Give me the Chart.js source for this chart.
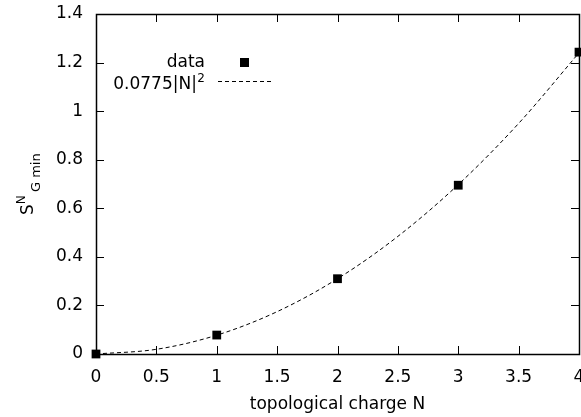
<!DOCTYPE html>
<html>
<head>
<meta charset="utf-8">
<script src="https://cdn.jsdelivr.net/npm/chart.js@4/dist/chart.umd.min.js"></script>
<style>
html,body{margin:0;padding:0;background:#fff;}
#wrap{width:581px;height:417px;}
</style>
</head>
<body>
<div id="wrap"><canvas id="c" width="581" height="417"></canvas></div>
<script>
// ---- data ----
const chargeN = [0, 1, 2, 3, 4];
const sValues = [0, 0.078, 0.31, 0.695, 1.243];
const fitN = [0, 0.5, 1, 1.5, 2, 2.5, 3, 3.5, 4];
const fitValues = [0, 0.019375, 0.0775, 0.174375, 0.31, 0.484375, 0.6975, 0.949375, 1.24];
const xTickValues = [0, 0.5, 1, 1.5, 2, 2.5, 3, 3.5, 4];
const yTickValues = [0, 0.2, 0.4, 0.6, 0.8, 1, 1.2, 1.4];
const dataLabel = 'data';
const fitLabel = '0.0775|N|';
const fitLabelSup = '2';
const xTitle = 'topological charge N';

const FONT = '"DejaVu Sans", Arial, Helvetica, sans-serif';
const FS = 17;

const frameTicks = {
  id: 'frameTicks',
  afterDatasetsDraw(chart) {
    const {ctx, chartArea: a, scales} = chart;
    ctx.save();
    ctx.strokeStyle = '#000';
    ctx.lineWidth = 1;
    ctx.beginPath();
    const L = 8;
    xTickValues.forEach(v => {
      const x = Math.round(scales.x.getPixelForValue(v)) + 0.5;
      ctx.moveTo(x, a.bottom); ctx.lineTo(x, a.bottom - L);
      ctx.moveTo(x, a.top); ctx.lineTo(x, a.top + L);
    });
    yTickValues.forEach(v => {
      const y = Math.round(scales.y.getPixelForValue(v)) + 0.5;
      ctx.moveTo(a.left, y); ctx.lineTo(a.left + L, y);
      ctx.moveTo(a.right, y); ctx.lineTo(a.right - L, y);
    });
    ctx.stroke();
    ctx.lineWidth = 1.5;
    ctx.strokeRect(Math.round(a.left)+0.5, Math.round(a.top)+0.5, Math.round(a.right - a.left), Math.round(a.bottom - a.top));
    ctx.restore();
  }
};

const legendAndLabel = {
  id: 'legendAndLabel',
  afterDraw(chart) {
    const ctx = chart.ctx;
    ctx.save();
    ctx.fillStyle = '#000';
    ctx.textBaseline = 'middle';
    ctx.textAlign = 'right';
    ctx.font = '12px ' + FONT;
    const supW = ctx.measureText(fitLabelSup).width;
    ctx.font = FS + 'px ' + FONT;
    ctx.fillText(dataLabel, 205, 63);
    ctx.fillText(fitLabel, 205 - supW - 0.5, 85);
    ctx.font = '12px ' + FONT;
    ctx.fillText(fitLabelSup, 205, 79);
    // marker
    ctx.fillRect(240, 58, 9, 9);
    // dashed line
    ctx.strokeStyle = '#000';
    ctx.lineWidth = 1;
    ctx.setLineDash([4, 3]);
    ctx.beginPath();
    ctx.moveTo(218, 81.5); ctx.lineTo(274, 81.5);
    ctx.stroke();
    ctx.setLineDash([]);
    // y-axis label S^N_{G min}
    ctx.translate(33, 215);
    ctx.rotate(-Math.PI / 2);
    ctx.textAlign = 'left';
    ctx.textBaseline = 'alphabetic';
    ctx.font = FS + 'px ' + FONT;
    ctx.fillText('S', 0, 0);
    const sw = ctx.measureText('S').width;
    ctx.font = '12px ' + FONT;
    ctx.fillText('N', sw, -8);
    ctx.font = '13px ' + FONT;
    ctx.fillText('G min', 23, 7);
    ctx.restore();
  }
};

const xPad = () => ({left: 0, right: 2, top: 0, bottom: 0});
const yPad = () => ({left: 0, right: 0, top: 14, bottom: 0});

new Chart(document.getElementById('c'), {
  type: 'scatter',
  data: {
    datasets: [
      {
        label: fitLabel + fitLabelSup,
        data: fitN.map((n, i) => ({x: n, y: fitValues[i]})),
        showLine: true,
        borderColor: '#000',
        borderWidth: 1,
        borderDash: [4, 3],
        pointRadius: 0,
        cubicInterpolationMode: 'monotone',
        fill: false,
        clip: false
      },
      {
        label: dataLabel,
        data: chargeN.map((n, i) => ({x: n, y: sValues[i]})),
        pointStyle: 'rect',
        pointRadius: 6.2,
        backgroundColor: '#000',
        borderColor: '#000',
        borderWidth: 0,
        clip: false
      }
    ]
  },
  options: {
    responsive: false,
    animation: false,
    devicePixelRatio: 1,
    layout: {padding: 0, autoPadding: false},
    plugins: {legend: {display: false}, tooltip: {enabled: false}},
    scales: {
      x: {
        type: 'linear', min: 0, max: 4,
        afterBuildTicks: s => { s.ticks = xTickValues.map(v => ({value: v})); },
        afterFit: s => { s.height = 63; s.paddingLeft = 0; s.paddingRight = 2; s.getPadding = xPad; },
        grid: {display: false, drawTicks: false},
        border: {display: false},
        ticks: {color: '#000', font: {family: FONT, size: FS}, padding: 13, maxRotation: 0, autoSkip: false,
          callback: v => String(v)},
        title: {display: true, text: xTitle, color: '#000', font: {family: FONT, size: FS}, padding: {top: 4, bottom: 2}}
      },
      y: {
        type: 'linear', min: 0, max: 1.4,
        afterBuildTicks: s => { s.ticks = yTickValues.map(v => ({value: v})); },
        afterFit: s => { s.width = 96; s.paddingTop = 14; s.paddingBottom = 0; s.getPadding = yPad; },
        grid: {display: false, drawTicks: false},
        border: {display: false},
        ticks: {color: '#000', font: {family: FONT, size: FS}, padding: 13, autoSkip: false,
          callback: v => String(Math.round(v * 10) / 10)}
      }
    }
  },
  plugins: [frameTicks, legendAndLabel]
});
</script>
</body>
</html>
